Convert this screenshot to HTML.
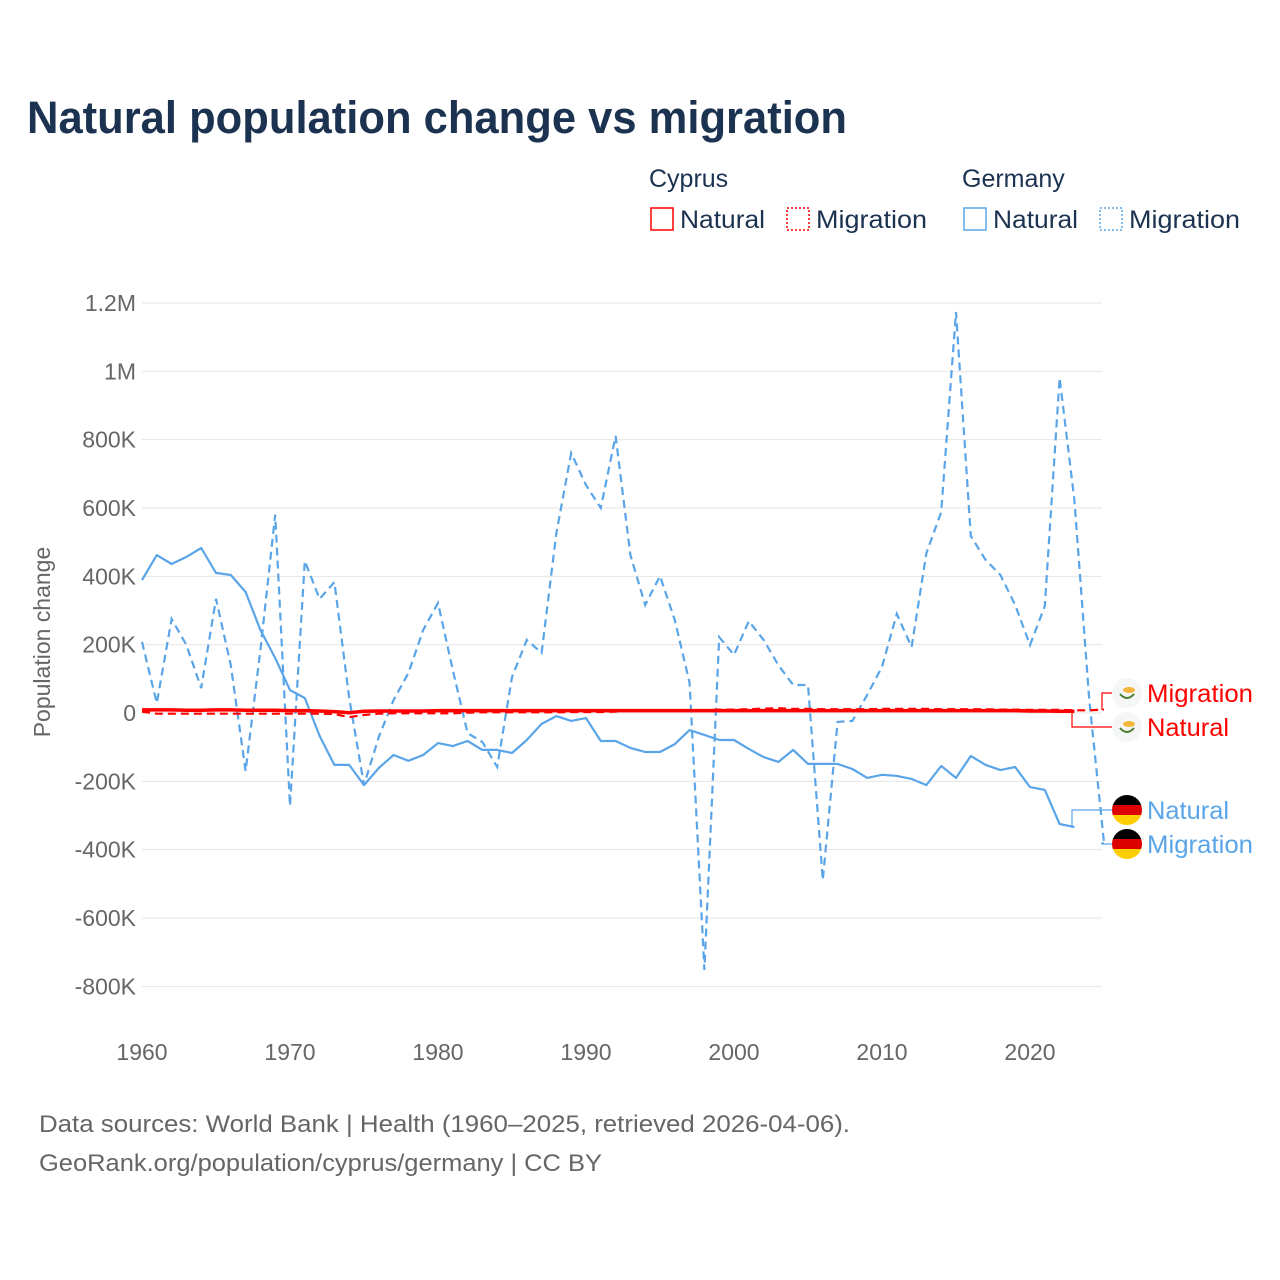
<!DOCTYPE html>
<html><head><meta charset="utf-8">
<style>
body{margin:0;background:#fff;font-family:"Liberation Sans",sans-serif;}
#wrap{position:relative;width:1280px;height:1280px;overflow:hidden;}
</style></head>
<body>
<div id="wrap">
<svg id="chart" width="1280" height="1280" xmlns="http://www.w3.org/2000/svg">
<text x="27" y="133" font-size="45" font-weight="bold" fill="#1b3250" textLength="820" lengthAdjust="spacingAndGlyphs">Natural population change vs migration</text>
<g font-size="25" fill="#1b3250">
<text x="649" y="187">Cyprus</text>
<text x="962" y="187">Germany</text>
<g><rect x="651" y="208" width="22" height="22" fill="none" stroke="#ff0000" stroke-width="1.5"/><text x="680" y="228" textLength="85" lengthAdjust="spacingAndGlyphs">Natural</text></g>
<g><rect x="787" y="208" width="22" height="22" fill="none" stroke="#ff0000" stroke-width="1.5" stroke-dasharray="2,2"/><text x="816" y="228" textLength="111" lengthAdjust="spacingAndGlyphs">Migration</text></g>
<g><rect x="964" y="208" width="22" height="22" fill="none" stroke="#5aa5e8" stroke-width="1.5"/><text x="993" y="228" textLength="85" lengthAdjust="spacingAndGlyphs">Natural</text></g>
<g><rect x="1100" y="208" width="22" height="22" fill="none" stroke="#5aa5e8" stroke-width="1.5" stroke-dasharray="2,2"/><text x="1129" y="228" textLength="111" lengthAdjust="spacingAndGlyphs">Migration</text></g>
</g>
<text transform="translate(50,642) rotate(-90)" text-anchor="middle" font-size="23" fill="#666">Population change</text>
<g id="grid"></g><g id="yticks"></g><g id="xticks"></g><g id="series"></g><g id="labels"></g>
<text x="39" y="1132" font-size="24" fill="#666" textLength="811" lengthAdjust="spacingAndGlyphs">Data sources: World Bank | Health (1960–2025, retrieved 2026-04-06).</text>
<text x="39" y="1171" font-size="24" fill="#666" textLength="563" lengthAdjust="spacingAndGlyphs">GeoRank.org/population/cyprus/germany | CC BY</text>
</svg>
</div>
<script>
const yTicks=[1200000,1000000,800000,600000,400000,200000,0,-200000,-400000,-600000,-800000];
const yTickLabels=["1.2M","1M","800K","600K","400K","200K","0","-200K","-400K","-600K","-800K"];
const xTicks=[1960,1970,1980,1990,2000,2010,2020];
const deNaturalYears=[];for(let y=1960;y<=2023;y++)deNaturalYears.push(y);
const deNatural=[389,462,436,457,483,410,404,354,243,161,67,44,-67,-152,-152,-211,-161,-123,-140,-123,-88,-97,-82,-108,-108,-117,-79,-32,-9,-23,-15,-82,-82,-102,-114,-114,-91,-50,-64,-79,-79,-105,-129,-143,-108,-149,-149,-149,-164,-190,-181,-184,-193,-211,-155,-190,-126,-152,-167,-158,-217,-225,-325,-334];
const deMigrationYears=[];for(let y=1960;y<=2025;y++)deMigrationYears.push(y);
const deMigration=[208,29,275,199,73,334,140,-170,184,580,-272,445,334,383,44,-211,-70,38,117,243,322,126,-59,-85,-158,105,214,176,527,761,667,600,811,462,316,401,272,88,-752,222,170,269,214,140,82,82,-489,-26,-23,53,135,290,193,468,588,1174,518,448,404,316,199,313,981,623,40,-380];
const cyNatural=[9,9,9,8,8,9,9,8,8,8,7,7,6,4,1,5,6,6,6,6,7,7,7,7,7,7,7,7,7,7,7,7,7,7,7,7,7,7,7,7,7,7,7,7,7,7,7,7,7,7,7,7,7,7,7,7,7,7,7,7,6,6,5,5];
const cyMigration=[4,-2,-2,-2,-2,-2,-2,-2,-2,-2,-2,-2,-2,-3,-12,-6,-2,-1,-1,-1,-1,-1,1,2,2,2,2,2,2,3,3,3,4,8,8,8,8,8,8,10,10,11,13,14,12,12,11,11,11,11,12,12,12,12,11,11,11,11,10,10,9,9,9,8,8,10];
const NS="http://www.w3.org/2000/svg";
const X0=142,Y0=713;
function xs(yr){return X0+(yr-1960)*14.8;}
function ys(v){return Y0-v/1200000*410;}
function mk(tag,attrs,parent){const e=document.createElementNS(NS,tag);for(const k in attrs)e.setAttribute(k,attrs[k]);parent.appendChild(e);return e;}
const grid=document.getElementById('grid'),yt=document.getElementById('yticks'),xt=document.getElementById('xticks'),ser=document.getElementById('series'),lab=document.getElementById('labels');
yTicks.forEach((t,i)=>{
 const l=mk('line',{x1:142,x2:1102,y1:ys(t),y2:ys(t),stroke:'#e6e6e6','stroke-width':1},grid);
 
 
 const tx=mk('text',{x:136,y:ys(t)+8,'text-anchor':'end','font-size':23,fill:'#666'},yt);
 tx.textContent=yTickLabels[i];
 
 
});
xTicks.forEach(t=>{
 const tx=mk('text',{x:xs(t),y:1060,'text-anchor':'middle','font-size':23,fill:'#666'},xt);
 tx.textContent=String(t);
 
 
});
function pts(years,vals){return vals.map((v,i)=>xs(years[i]).toFixed(1)+','+ys(v*1000).toFixed(1)).join(' ');}
const g1=mk('polyline',{points:pts(deNaturalYears,deNatural),fill:'none',stroke:'#5aa5e8','stroke-width':2.2,'stroke-linejoin':'round'},ser);


const g2=mk('polyline',{points:pts(deMigrationYears,deMigration),fill:'none',stroke:'#5aa5e8','stroke-width':2.2,'stroke-dasharray':'8,5'},ser);


const c1=mk('polyline',{points:pts(deNaturalYears,cyNatural),fill:'none',stroke:'#ff0000','stroke-width':3.5},ser);


const c2=mk('polyline',{points:pts(deMigrationYears,cyMigration),fill:'none',stroke:'#ff0000','stroke-width':2.2,'stroke-dasharray':'8,5'},ser);


function endLabel(name,color,x1,y1,ly,text,flag){
 const xm=x1<1090?1072:1102;
 const c=mk('polyline',{points:`${x1},${y1} ${xm},${y1} ${xm},${ly} 1112,${ly}`,fill:'none',stroke:color,'stroke-width':1.2},lab);
 
 
 const g=mk('g',{},lab);
 
 
 if(flag==='de'){
  mk('clipPath',{id:'cp'+ly},g);
  const cp=g.lastChild;mk('circle',{cx:1127,cy:ly,r:15},cp);
  mk('rect',{x:1112,y:ly-15,width:30,height:10,fill:'#000','clip-path':`url(#cp${ly})`},g);
  mk('rect',{x:1112,y:ly-5,width:30,height:10,fill:'#dd0000','clip-path':`url(#cp${ly})`},g);
  mk('rect',{x:1112,y:ly+5,width:30,height:10,fill:'#ffce00','clip-path':`url(#cp${ly})`},g);
 } else {
  mk('circle',{cx:1127,cy:ly,r:15,fill:'#f4f6f8'},g);
  mk('ellipse',{cx:1129,cy:ly-3,rx:6,ry:3,fill:'#f5b73b'},g);
  mk('path',{d:`M1120 ${ly+1} Q1127 ${ly+9} 1134 ${ly+1}`,fill:'none',stroke:'#4e7d2e','stroke-width':2},g);
 }
 const t=mk('text',{x:1147,y:ly+9,'font-size':25,fill:color,textLength:(text==='Migration'?106:82),lengthAdjust:'spacingAndGlyphs'},lab);
 t.textContent=text;
 
 
}
endLabel('cyprus-migration','#ff0000',xs(2025),ys(cyMigration[cyMigration.length-1]*1000),693,'Migration','cy');
endLabel('cyprus-natural','#ff0000',xs(2023),ys(cyNatural[cyNatural.length-1]*1000),727,'Natural','cy');
endLabel('germany-natural','#5aa5e8',xs(2023),ys(deNatural[deNatural.length-1]*1000),810,'Natural','de');
endLabel('germany-migration','#5aa5e8',xs(2025),ys(deMigration[deMigration.length-1]*1000),844,'Migration','de');
</script>
</body></html>
